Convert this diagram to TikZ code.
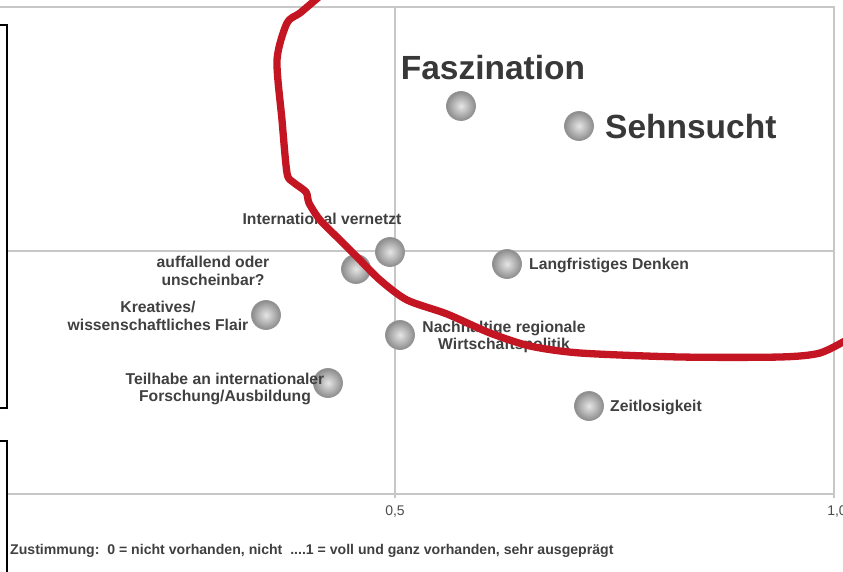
\documentclass[tikz,border=0pt]{standalone}
\usepackage{fontspec}
\setmainfont{Liberation Sans}
\begin{document}
\begin{tikzpicture}[x=1pt,y=-1pt,
  gridline/.style={draw=black!22, line width=1.3pt},
  frame/.style={draw=black, line width=2pt},
  bubble/.style={circle, minimum size=29pt, inner sep=0pt, shading=radial, inner color=black!10, outer color=black!45, draw=black!42, line width=0.8pt},
  lbl/.style={font=\fontsize{15.7}{17.5}\selectfont\bfseries, text=black!75, align=center, inner sep=0pt},
  big/.style={font=\fontsize{33.5}{36}\selectfont\bfseries, text=black!78, inner sep=0pt},
  tick/.style={font=\fontsize{14}{16}\selectfont, text=black!70, inner sep=0pt},
  curve/.style={draw={rgb,255:red,196;green,22;blue,34}, line width=7.3pt, line join=round, line cap=round}]
\useasboundingbox (0,0) rectangle (843,572);
\fill[white] (0,0) rectangle (843,572);
% frame and grid
\coordinate (tl) at (0,7);
\coordinate (tr) at (834,7);
\coordinate (br) at (834,498);
\coordinate (bl) at (8,494);
\coordinate (bre) at (834,494);
\coordinate (mt) at (395,7);
\coordinate (mb) at (395,498);
\coordinate (hl) at (8,251);
\coordinate (hr) at (834,251);
\draw[gridline] (tl) -- (tr) -- (br);
\draw[gridline] (bl) -- (bre);
\draw[gridline] (mt) -- (mb);
\draw[gridline] (hl) -- (hr);
% left boxes
\draw[frame] (-5,25) rectangle (7,408);
\draw[frame] (-5,441) rectangle (7,590);
% axis labels
\node[tick] (t05) at (395,512) {0,5};
\node[tick] (t10) at (837,512) {1,0};
\node[font=\fontsize{14.1}{16}\selectfont\bfseries, text=black!75, anchor=west, inner sep=0pt] (note) at (10,551) {Zustimmung:\ \ 0 = nicht vorhanden, nicht\ \ ....1 = voll und ganz vorhanden, sehr ausgeprägt};
% bubbles
\node[bubble] (faszb) at (461,106) {};
\node[bubble] (sehnb) at (579,126) {};
\node[bubble] (intb) at (390,252) {};
\node[bubble] (auffb) at (356,269) {};
\node[bubble] (langb) at (507,264) {};
\node[bubble] (kreab) at (266,315) {};
\node[bubble] (nachb) at (400,335) {};
\node[bubble] (teilb) at (328,383) {};
\node[bubble] (zeitb) at (589,406) {};
% labels
\node[big] (fasz) at (493,68) {Faszination};
\node[big, anchor=west] (sehn) at (605,127) {Sehnsucht};
\node[lbl] (int) at (322,219) {International vernetzt};
\node[lbl] (auff) at (213,271) {auffallend oder\\unscheinbar?};
\node[lbl, anchor=west] (lang) at (529,265) {Langfristiges Denken};
\node[lbl] (krea) at (158,316) {Kreatives/\\wissenschaftliches Flair};
\node[lbl] (nach) at (504,337) {Nachhaltige regionale\\Wirtschaftspolitik};
\node[lbl] (teil) at (225,389) {Teilhabe an internationaler\\Forschung/Ausbildung};
\node[lbl, anchor=west] (zeit) at (610,407) {Zeitlosigkeit};
% red curve
\draw[curve] plot[smooth, tension=0.45] coordinates {
  (320,-4) (300,13) (287,23) (277,60) (282,120) (287,173) (293,182) (306,192) (309,203)
  (320,220) (340,240) (358,258) (380,280) (407,300) (447,314) (490,333) (530,346)
  (580,353) (680,357) (780,357) (820,353) (850,338)};
\end{tikzpicture}
\end{document}
